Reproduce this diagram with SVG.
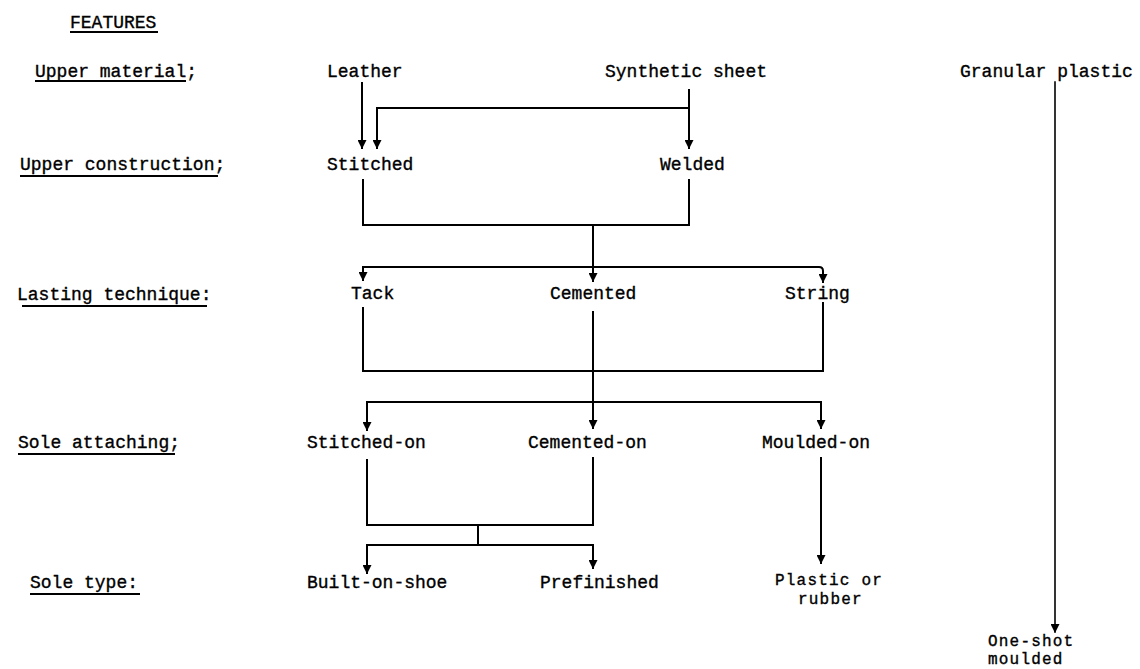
<svg xmlns="http://www.w3.org/2000/svg" width="1140" height="669" viewBox="0 0 1140 669">
<style>
text{font-family:"Liberation Mono","Courier New",monospace;font-size:18px;fill:#000;stroke:#000;stroke-width:0.35}
text.s{font-size:16px;letter-spacing:1.2px}
.c{fill:none;stroke:#000;stroke-width:2;stroke-linecap:square}
.thin{stroke-width:1.6}
.u{stroke:#000;stroke-width:2}
</style>
<defs>
<marker id="ah" viewBox="0 0 10 10" refX="9" refY="5" markerWidth="10" markerHeight="9" markerUnits="userSpaceOnUse" orient="auto">
<path d="M0,0 L10,5 L0,10 z" fill="#000"/>
</marker>
</defs>
<rect width="1140" height="669" fill="#fff"/>
<g id="labels">
<g id="lbl-features"><text x="70" y="28">FEATURES</text><line class="u" x1="70" y1="32" x2="158" y2="32"/></g>
<g id="lbl-upper-material"><text x="35" y="77">Upper material;</text><line class="u" x1="35" y1="81" x2="186" y2="81"/></g>
<g id="lbl-upper-construction"><text x="20" y="170">Upper construction;</text><line class="u" x1="20" y1="176" x2="218" y2="176"/></g>
<g id="lbl-lasting"><text x="17" y="300">Lasting technique:</text><line class="u" x1="22" y1="306" x2="207" y2="306"/></g>
<g id="lbl-sole-attaching"><text x="18" y="448">Sole attaching;</text><line class="u" x1="18" y1="454" x2="175" y2="454"/></g>
<g id="lbl-sole-type"><text x="30" y="588">Sole type:</text><line class="u" x1="30" y1="594" x2="140" y2="594"/></g>
</g>
<g id="n-leather"><text x="327" y="77">Leather</text></g>
<g id="n-synthetic"><text x="605" y="77">Synthetic sheet</text></g>
<g id="n-granular"><text x="960" y="77">Granular plastic</text></g>
<g id="n-stitched"><text x="327" y="170">Stitched</text></g>
<g id="n-welded"><text x="660" y="170">Welded</text></g>
<g id="n-tack"><text x="351" y="299">Tack</text></g>
<g id="n-cemented"><text x="550" y="299">Cemented</text></g>
<g id="n-string"><text x="785" y="299">String</text></g>
<g id="n-stitched-on"><text x="307" y="448">Stitched-on</text></g>
<g id="n-cemented-on"><text x="528" y="448">Cemented-on</text></g>
<g id="n-moulded-on"><text x="762" y="448">Moulded-on</text></g>
<g id="n-built-on-shoe"><text x="307" y="588">Built-on-shoe</text></g>
<g id="n-prefinished"><text x="540" y="588">Prefinished</text></g>
<g id="n-plastic-rubber"><text class="s" x="775" y="585">Plastic or</text><text class="s" x="798" y="604">rubber</text></g>
<g id="n-one-shot"><text class="s" x="988" y="646">One-shot</text><text class="s" x="988" y="664">moulded</text></g>
<g id="connectors">
<path class="c" d="M362,83 V148" marker-end="url(#ah)"/>
<path class="c" d="M689,90 V148" marker-end="url(#ah)"/>
<path class="c" d="M689,108 H377 V148" marker-end="url(#ah)"/>
<path class="c" d="M363,180 V225 H689 V180"/>
<path class="c" d="M593,225 V281" marker-end="url(#ah)"/>
<path class="c" d="M363,267 H819 Q823,267 823,271 V282" marker-end="url(#ah)"/>
<path class="c" d="M363,267 V280" marker-end="url(#ah)"/>
<path class="c" d="M363,308 V371 H823 V303"/>
<path class="c" d="M593,312 V428" marker-end="url(#ah)"/>
<path class="c" d="M367,402 H821 V428" marker-end="url(#ah)"/>
<path class="c" d="M367,402 V430" marker-end="url(#ah)"/>
<path class="c" d="M367,460 V525 H593 V458"/>
<path class="c" d="M478,525 V545"/>
<path class="c" d="M367,545 H593 V568" marker-end="url(#ah)"/>
<path class="c" d="M367,545 V573" marker-end="url(#ah)"/>
<path class="c" d="M821,458 V563" marker-end="url(#ah)"/>
<path class="c thin" d="M1055,82 V632" marker-end="url(#ah)"/>
</g>
</svg>
